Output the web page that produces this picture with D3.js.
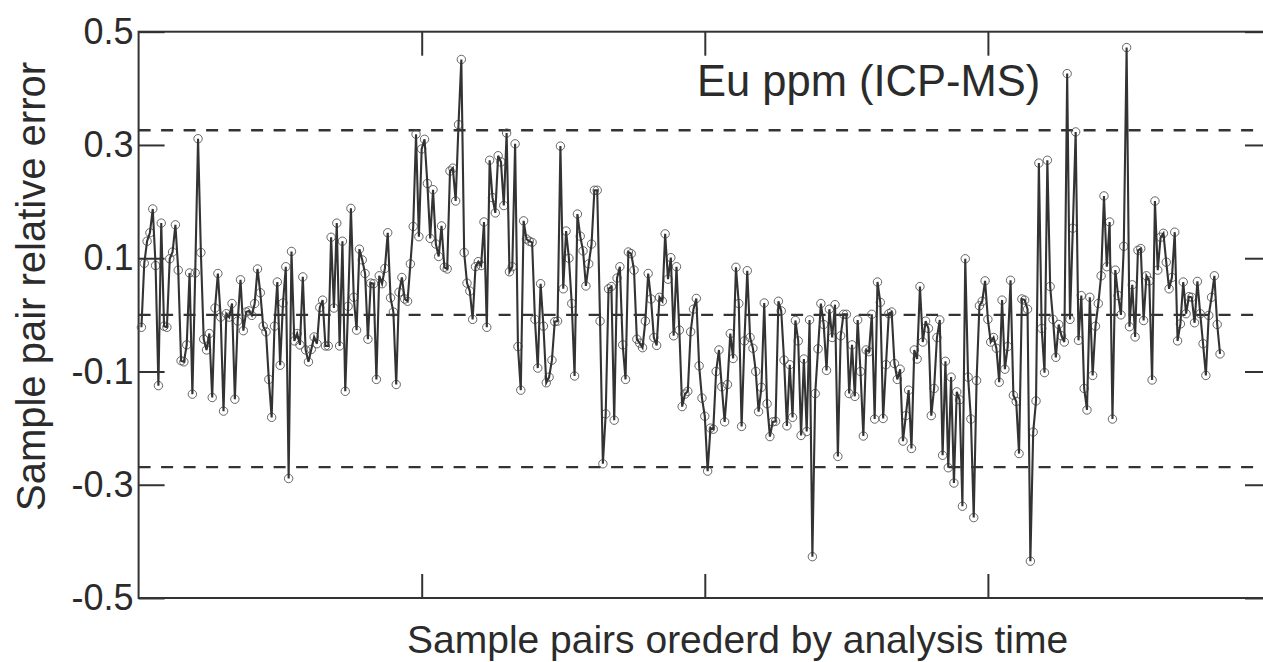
<!DOCTYPE html>
<html>
<head>
<meta charset="utf-8">
<script src="https://cdn.jsdelivr.net/npm/d3@7"></script>
<style>
  body { margin: 0; background: #fff; overflow: hidden; }
  svg text { font-family: "Liberation Sans", Arial, sans-serif; fill: #2b2b2b; }
</style>
</head>
<body>
<div id="chart"></div>
<script>
// relative error of each sample pair, in order of analysis time
const relErr = [
  -0.022, 0.091, 0.13, 0.145, 0.187, 0.087, -0.125, 0.162, -0.02, -0.022,
  0.099, 0.111, 0.159, 0.079, -0.081, -0.083, -0.053, 0.074, -0.14, 0.074,
  0.311, 0.11, -0.043, -0.062, -0.033, -0.146, 0.012, 0.073, -0.004, -0.17,
  0.002, -0.004, 0.02, -0.149, -0.011, 0.062, -0.028, 0.005, 0.007, -0.001,
  0.02, 0.081, 0.039, -0.02, -0.03, -0.114, -0.181, -0.02, 0.058, -0.089,
  0.021, 0.085, -0.289, 0.112, -0.046, -0.033, -0.053, 0.067, -0.062, -0.083,
  -0.061, -0.039, -0.051, 0.013, 0.026, -0.055, -0.055, 0.137, 0.012, 0.162,
  -0.055, 0.13, -0.135, 0.015, 0.188, 0.031, -0.027, 0.116, 0.097, 0.073,
  -0.043, 0.056, 0.055, -0.114, 0.069, 0.055, 0.082, 0.145, 0.03, 0.005,
  -0.123, 0.04, 0.066, 0.028, 0.024, 0.09, 0.156, 0.319, 0.138, 0.293,
  0.31, 0.232, 0.135, 0.221, 0.125, 0.103, 0.157, 0.084, 0.081, 0.254,
  0.259, 0.201, 0.336, 0.451, 0.11, 0.056, 0.042, -0.008, 0.085, 0.094,
  0.087, 0.164, -0.022, 0.273, 0.207, 0.18, 0.281, 0.27, 0.193, 0.321,
  0.076, 0.085, 0.302, -0.056, -0.133, 0.166, 0.134, 0.13, 0.128, -0.008,
  -0.094, 0.055, -0.02, -0.12, -0.11, -0.08, -0.012, -0.011, 0.298, 0.046,
  0.148, 0.10, 0.02, -0.108, 0.178, 0.139, 0.113, 0.051, 0.09, 0.125,
  0.22, 0.22, -0.011, -0.263, -0.175, 0.046, 0.05, -0.186, 0.065, 0.085,
  -0.053, -0.114, 0.111, 0.108, 0.079, -0.043, -0.05, -0.058, -0.011, 0.073,
  0.028, -0.04, -0.054, 0.031, 0.024, 0.143, 0.063, 0.101, -0.037, 0.085,
  -0.027, -0.162, -0.14, -0.135, -0.03, 0.01, 0.029, -0.09, -0.147, -0.179,
  -0.276, -0.2, -0.202, -0.1, -0.062, -0.127, -0.189, -0.123, -0.033, -0.077,
  0.084, 0.02, -0.197, -0.046, 0.078, -0.04, -0.059, -0.1, -0.171, -0.128,
  0.021, -0.157, -0.215, -0.189, -0.188, 0.024, 0.007, -0.08, -0.196, -0.088,
  -0.181, -0.01, -0.046, -0.213, -0.078, -0.206, -0.009, -0.427, -0.139, -0.06,
  0.02, -0.017, -0.098, 0.01, -0.04, 0.018, -0.25, -0.037, 0.001, 0.001,
  -0.139, -0.053, -0.144, -0.009, -0.1, -0.214, -0.062, -0.065, 0.001, -0.184,
  0.058, 0.022, -0.183, -0.088, 0.002, 0.005, -0.086, -0.114, -0.096, -0.223,
  -0.178, -0.133, -0.236, -0.062, -0.078, 0.05, -0.048, -0.011, -0.024, -0.178,
  -0.13, -0.04, -0.009, -0.248, -0.082, -0.27, -0.11, -0.297, -0.136, -0.15,
  -0.338, 0.099, -0.11, -0.184, -0.358, -0.116, 0.016, 0.024, 0.06, -0.008,
  -0.048, -0.04, -0.059, -0.119, 0.026, -0.096, -0.056, 0.061, -0.142, -0.153,
  -0.245, 0.028, 0.026, 0.01, -0.435, -0.207, -0.152, 0.268, -0.024, -0.102,
  0.273, 0.05, -0.008, -0.075, -0.017, -0.037, -0.048, 0.426, -0.008, 0.153,
  0.323, -0.045, 0.034, -0.13, -0.168, 0.031, -0.107, -0.02, 0.02, 0.069,
  0.21, 0.085, 0.164, -0.184, 0.079, 0.034, 0.0, 0.121, 0.472, -0.021,
  0.053, -0.039, 0.114, 0.117, -0.01, 0.069, 0.06, -0.115, 0.201, 0.079,
  0.137, 0.144, 0.093, 0.046, 0.066, 0.146, -0.046, -0.016, 0.058, 0.002,
  0.032, 0.031, -0.014, 0.059, 0.002, -0.051, -0.107, -0.001, 0.031, 0.069,
  -0.017, -0.069
];

// dashed reference lines (upper limit, zero, lower limit)
const refLines = [0.326, 0, -0.269];
const yTicks = [0.5, 0.3, 0.1, -0.1, -0.3, -0.5];
const xTicks = [100, 200, 300];

const W = 1263, H = 662;
// right edge of the axes box sits just past the picture edge
const plot = { left: 138.6, right: 1271, top: 31.7, bottom: 598 };

const svg = d3.select("#chart").append("svg")
  .attr("width", W)
  .attr("height", H);

svg.append("rect").attr("width", W).attr("height", H).attr("fill", "#fff");

const x = d3.scaleLinear().domain([0, 400]).range([plot.left, plot.right]);
const y = d3.scaleLinear().domain([-0.5, 0.5]).range([plot.bottom, plot.top]);

const axisColor = "#333";
const fmt = d => d3.format(".1f")(d).replace("\u2212", "-");

// ticks on all four sides, pointing inwards
const gLeft = svg.append("g")
  .attr("transform", `translate(${plot.left},0)`)
  .call(d3.axisLeft(y).tickValues(yTicks).tickSizeInner(-26).tickSizeOuter(0)
    .tickPadding(5).tickFormat(fmt));
gLeft.selectAll("text").style("font-size", "36px").attr("dy", "0.32em");

const gRight = svg.append("g")
  .attr("transform", `translate(${plot.right},0)`)
  .call(d3.axisRight(y).tickValues(yTicks).tickSizeInner(-26).tickSizeOuter(0).tickFormat(""));

const gBottom = svg.append("g")
  .attr("transform", `translate(0,${plot.bottom})`)
  .call(d3.axisBottom(x).tickValues(xTicks).tickSizeInner(-24).tickSizeOuter(0).tickFormat(""));

const gTop = svg.append("g")
  .attr("transform", `translate(0,${plot.top})`)
  .call(d3.axisTop(x).tickValues(xTicks).tickSizeInner(-24).tickSizeOuter(0).tickFormat(""));

[gLeft, gRight, gBottom, gTop].forEach(g => {
  g.select(".domain").remove();
  g.selectAll("line").attr("stroke", axisColor).attr("stroke-width", 2);
});

// frame
svg.append("rect")
  .attr("x", plot.left).attr("y", plot.top)
  .attr("width", plot.right - plot.left).attr("height", plot.bottom - plot.top)
  .attr("fill", "none")
  .attr("stroke", axisColor)
  .attr("stroke-width", 2);

// dashed limit lines
svg.selectAll(".ref")
  .data(refLines)
  .join("line")
  .attr("class", "ref")
  .attr("x1", plot.left).attr("x2", plot.right)
  .attr("y1", d => y(d)).attr("y2", d => y(d))
  .attr("stroke", "#333")
  .attr("stroke-width", 2.3)
  .attr("stroke-dasharray", "12,10.5");

// series
const pts = relErr.map((v, i) => ({ n: i + 1, v: v }));

svg.selectAll(".pt")
  .data(pts)
  .join("circle")
  .attr("class", "pt")
  .attr("cx", d => x(d.n))
  .attr("cy", d => y(d.v))
  .attr("r", 4.2)
  .attr("fill", "none")
  .attr("stroke", "#555")
  .attr("stroke-width", 0.9);

svg.append("path")
  .datum(pts)
  .attr("fill", "none")
  .attr("stroke", "#333")
  .attr("stroke-width", 2.1)
  .attr("d", d3.line().x(d => x(d.n)).y(d => y(d.v)));

// texts
svg.append("text")
  .attr("x", 697)
  .attr("y", 96)
  .style("font-size", "43.5px")
  .text("Eu ppm (ICP-MS)");

svg.append("text")
  .attr("x", 407)
  .attr("y", 653)
  .style("font-size", "39px")
  .text("Sample pairs orederd by analysis time");

svg.append("text")
  .attr("transform", "translate(45,286.5) rotate(-90)")
  .attr("text-anchor", "middle")
  .style("font-size", "40px")
  .text("Sample pair relative error");
</script>
</body>
</html>
